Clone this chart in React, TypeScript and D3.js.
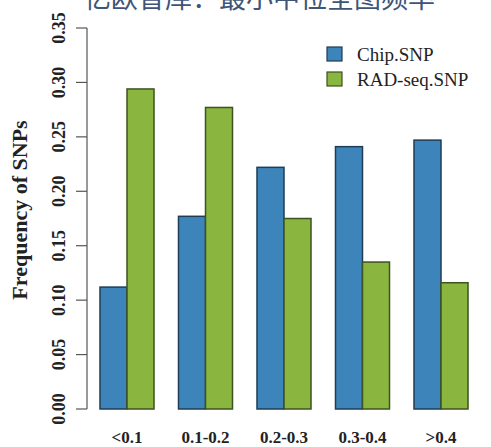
import React from "react";
import * as d3 from "d3";

const categories = ["<0.1", "0.1-0.2", "0.2-0.3", "0.3-0.4", ">0.4"];
const seriesNames = ["Chip.SNP", "RAD-seq.SNP"];
const chipValues = [0.112, 0.177, 0.222, 0.241, 0.247];
const radValues = [0.294, 0.277, 0.175, 0.135, 0.116];
const yTicks = [0, 0.05, 0.1, 0.15, 0.2, 0.25, 0.3, 0.35];
const colors = ["#3d84ba", "#8ab53e"];
const strokes = ["#1f3d55", "#3c5322"];

const width = 491;
const height = 447;

export default function App() {
  const y = d3.scaleLinear().domain([0, 0.35]).range([409, 28]);
  const x = d3
    .scaleBand<string>()
    .domain(categories)
    .range([87.75, 480.25])
    .paddingInner(0.312)
    .paddingOuter(0.156);
  const sub = d3
    .scaleBand<string>()
    .domain(seriesNames)
    .range([0, x.bandwidth()]);

  const series = [chipValues, radValues];
  const serif = "'Liberation Serif', 'Times New Roman', serif";

  return (
    <svg
      width={width}
      height={height}
      style={{ position: "absolute", left: 0, top: 0, background: "#fff" }}
    >
      {/* cropped watermark title */}
      <text
        x={84}
        y={8}
        fontFamily="'Noto Sans CJK SC', sans-serif"
        fontSize={27}
        fill="#3e5579"
      >
        亿欧智库：最小中位全图频率
      </text>

      {/* y axis */}
      <line x1={87} x2={87} y1={y(0)} y2={y(0.35)} stroke="#555" strokeWidth={1.2} />
      {yTicks.map((t) => (
        <g key={t}>
          <line x1={76} x2={87} y1={y(t)} y2={y(t)} stroke="#555" strokeWidth={1.2} />
          <text
            transform={`translate(65,${y(t)}) rotate(-90)`}
            textAnchor="middle"
            fontFamily={serif}
            fontWeight="bold"
            fontSize={18}
            fill="#222"
          >
            {t.toFixed(2)}
          </text>
        </g>
      ))}
      <text
        transform={`translate(27,210) rotate(-90)`}
        textAnchor="middle"
        fontFamily={serif}
        fontWeight="bold"
        fontSize={22}
        fill="#222"
      >
        Frequency of SNPs
      </text>

      {/* bars */}
      {categories.map((c, i) => (
        <g key={c} transform={`translate(${x(c)},0)`}>
          {series.map((vals, s) => (
            <rect
              key={s}
              x={sub(seriesNames[s])}
              y={y(vals[i])}
              width={sub.bandwidth()}
              height={y(0) - y(vals[i])}
              fill={colors[s]}
              stroke={strokes[s]}
              strokeWidth={1.5}
            />
          ))}
          <text
            x={x.bandwidth() / 2}
            y={443}
            textAnchor="middle"
            fontFamily={serif}
            fontWeight="bold"
            fontSize={17}
            fill="#222"
          >
            {c}
          </text>
        </g>
      ))}

      {/* legend */}
      {seriesNames.map((n, s) => (
        <g key={n} transform={`translate(327,${47 + s * 25})`}>
          <rect width={15} height={14} fill={colors[s]} stroke={strokes[s]} strokeWidth={1.2} />
          <text x={30} y={14} fontFamily={serif} fontSize={19} fill="#222">
            {n}
          </text>
        </g>
      ))}
    </svg>
  );
}
